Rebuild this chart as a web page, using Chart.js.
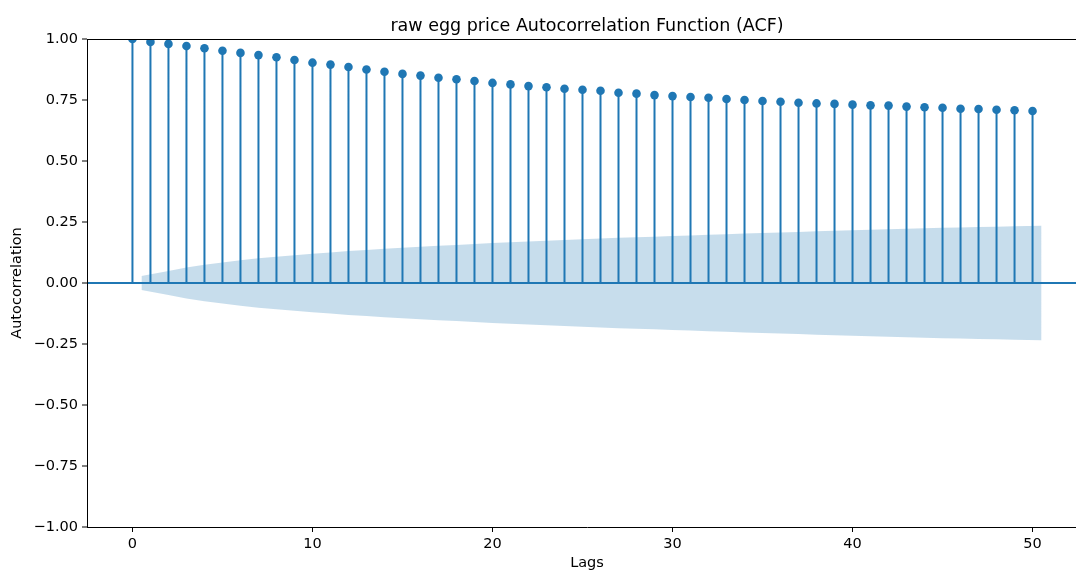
<!DOCTYPE html>
<html>
<head>
<meta charset="utf-8">
<title>raw egg price ACF</title>
<script src="https://cdn.jsdelivr.net/npm/chart.js@4.4.1/dist/chart.umd.min.js"></script>
<style>
    html, body { margin: 0; padding: 0; background: #fff; overflow: hidden; }
    #wrap { width: 1100px; height: 572px; }
</style>
</head>
<body>
<div id="wrap"><canvas id="chart" width="1100" height="572"></canvas></div>
<script>
// autocorrelation of the raw egg price series, lags 0..50
const lags = [
    0, 1, 2, 3, 4, 5, 6, 7, 8, 9, 10, 11, 12, 13, 14, 15, 16, 17, 18, 19, 20, 21, 22, 23, 24, 25,
    26, 27, 28, 29, 30, 31, 32, 33, 34, 35, 36, 37, 38, 39, 40, 41, 42, 43, 44, 45, 46, 47, 48, 49, 50
];
const acfValues = [
    1.000, 0.988, 0.980, 0.971, 0.962, 0.952, 0.943, 0.934, 0.925, 0.914, 0.903, 0.895, 0.885, 0.875,
    0.866, 0.857, 0.850, 0.841, 0.835, 0.828, 0.820, 0.814, 0.807, 0.802, 0.796, 0.792, 0.788, 0.780,
    0.776, 0.770, 0.766, 0.762, 0.759, 0.754, 0.750, 0.746, 0.743, 0.739, 0.736, 0.734, 0.731, 0.728,
    0.727, 0.723, 0.720, 0.718, 0.714, 0.713, 0.710, 0.708, 0.705
];
// half-width of the 95% confidence band, lags 1..50
const confBand = [
    0.029, 0.049, 0.064, 0.075, 0.084, 0.093, 0.101, 0.108, 0.114, 0.120, 0.125, 0.131, 0.135, 0.140,
    0.144, 0.149, 0.153, 0.156, 0.160, 0.164, 0.167, 0.170, 0.173, 0.176, 0.179, 0.182, 0.185, 0.188,
    0.190, 0.193, 0.195, 0.198, 0.200, 0.203, 0.205, 0.207, 0.209, 0.212, 0.214, 0.216, 0.218, 0.220,
    0.222, 0.224, 0.226, 0.227, 0.229, 0.231, 0.233, 0.235
];
const xTicks = [0, 10, 20, 30, 40, 50];
const yTicks = [-1, -0.75, -0.5, -0.25, 0, 0.25, 0.5, 0.75, 1];

const BLUE = "#1f77b4";
const FONT = "'DejaVu Sans', sans-serif";

// band runs half a lag past its first and last lag
const bandLags = lags.slice(1);
bandLags[0] -= 0.5;
bandLags[bandLags.length - 1] += 0.5;

const upper = bandLags.map((x, i) => ({ x: x, y: confBand[i] }));
const lower = bandLags.map((x, i) => ({ x: x, y: -confBand[i] }));
const points = lags.map((x, i) => ({ x: x, y: acfValues[i] }));

// vertical stems: 0 -> value, then a gap before the next lag
const stems = [];
lags.forEach((x, i) => {
    stems.push({ x: x, y: 0 }, { x: x, y: acfValues[i] }, { x: x, y: null });
});

function minusSign(v) {
    return v.toFixed(2).replace("-", "\u2212");
}

// title over the plot area plus the top/right frame lines
const framePlugin = {
    id: "frame",
    afterDraw(chart) {
        const { ctx, chartArea } = chart;
        ctx.save();
        ctx.strokeStyle = "#000";
        ctx.lineWidth = 1;
        ctx.beginPath();
        ctx.moveTo(chartArea.left, chartArea.top + 0.5);
        ctx.lineTo(chartArea.right, chartArea.top + 0.5);
        ctx.moveTo(chartArea.right + 0.5, chartArea.top);
        ctx.lineTo(chartArea.right + 0.5, chartArea.bottom);
        ctx.stroke();

        ctx.fillStyle = "#000";
        ctx.font = "17.5px " + FONT;
        ctx.textAlign = "center";
        ctx.textBaseline = "alphabetic";
        ctx.fillText("raw egg price Autocorrelation Function (ACF)",
            (chartArea.left + chartArea.right) / 2, chartArea.top - 8);
        ctx.restore();
    }
};

new Chart(document.getElementById("chart"), {
    type: "scatter",
    data: {
        datasets: [
            {
                type: "line",
                data: upper,
                borderWidth: 0,
                pointRadius: 0,
                fill: "+1",
                backgroundColor: "rgba(31, 119, 180, 0.25)",
                order: 4
            },
            {
                type: "line",
                data: lower,
                borderWidth: 0,
                pointRadius: 0,
                fill: false,
                order: 4
            },
            {
                type: "line",
                data: stems,
                borderColor: BLUE,
                borderWidth: 2,
                pointRadius: 0,
                spanGaps: false,
                fill: false,
                order: 2
            },
            {
                type: "scatter",
                data: points,
                pointRadius: 4.3,
                pointBackgroundColor: BLUE,
                pointBorderWidth: 0,
                order: 1
            }
        ]
    },
    options: {
        responsive: false,
        animation: false,
        layout: { padding: { top: 39, right: 13, bottom: 0, left: 0 } },
        plugins: {
            legend: { display: false },
            tooltip: { enabled: false }
        },
        scales: {
            x: {
                type: "linear",
                min: -2.525,
                max: 53.025,
                afterFit(scale) { scale.height = 45; },
                afterBuildTicks(scale) { scale.ticks = xTicks.map(v => ({ value: v })); },
                border: { display: true, color: "#000", width: 1 },
                grid: { drawOnChartArea: false, drawTicks: true, tickLength: 5, tickColor: "#000", tickWidth: 1 },
                ticks: {
                    color: "#000",
                    font: { family: FONT, size: 14.5 },
                    padding: 4,
                    maxRotation: 0,
                    callback: v => String(v)
                },
                title: {
                    display: true,
                    text: "Lags",
                    color: "#000",
                    font: { family: FONT, size: 14.5 },
                    padding: { top: 0, bottom: 0 }
                }
            },
            y: {
                type: "linear",
                min: -1,
                max: 1,
                afterFit(scale) { scale.width = 87; },
                afterBuildTicks(scale) { scale.ticks = yTicks.map(v => ({ value: v })); },
                border: { display: true, color: "#000", width: 1 },
                grid: {
                    drawOnChartArea: true,
                    drawTicks: true,
                    tickLength: 5,
                    tickColor: "#000",
                    tickWidth: 1,
                    color: c => (c.tick && c.tick.value === 0 ? BLUE : "rgba(0,0,0,0)"),
                    lineWidth: c => (c.tick && c.tick.value === 0 ? 2 : 0)
                },
                ticks: {
                    color: "#000",
                    font: { family: FONT, size: 14.5 },
                    padding: 4,
                    callback: v => minusSign(v)
                },
                title: {
                    display: true,
                    text: "Autocorrelation",
                    color: "#000",
                    font: { family: FONT, size: 14.5 },
                    padding: { top: 9, bottom: 0 }
                }
            }
        }
    },
    plugins: [framePlugin]
});
</script>
</body>
</html>
